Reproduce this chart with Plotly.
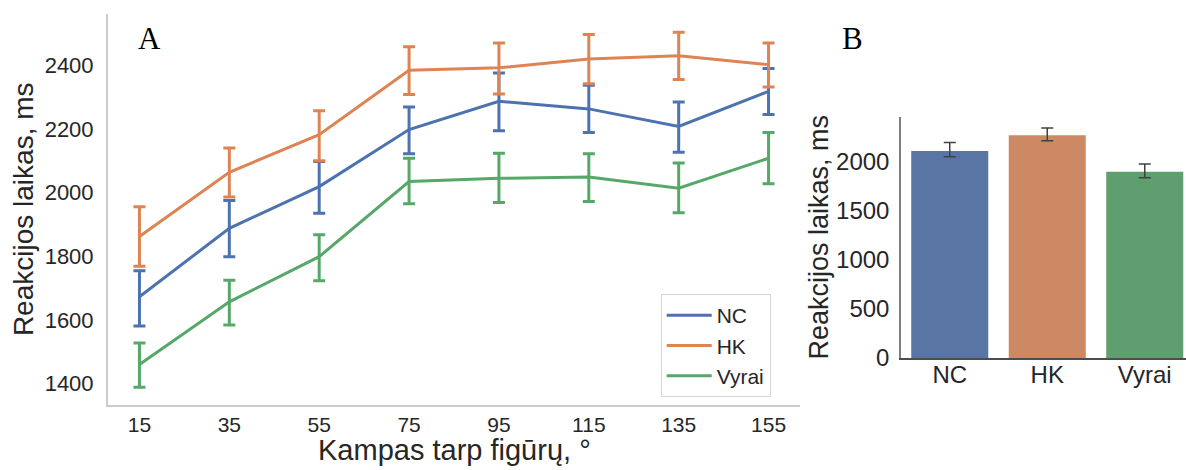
import plotly.graph_objects as go

# ---------------- data ----------------
angles = ["15", "35", "55", "75", "95", "115", "135", "155"]

nc_mean = [1673, 1888, 2019, 2198, 2287, 2263, 2208, 2318]
nc_hi = [1755, 1975, 2098, 2269, 2376, 2337, 2285, 2390]
nc_lo = [1581, 1799, 1935, 2122, 2194, 2189, 2127, 2245]

hk_mean = [1862, 2064, 2182, 2384, 2392, 2420, 2430, 2402]
hk_hi = [1956, 2140, 2257, 2458, 2470, 2497, 2504, 2470]
hk_lo = [1769, 1986, 2100, 2308, 2310, 2342, 2355, 2332]

vy_mean = [1460, 1657, 1799, 2035, 2045, 2049, 2014, 2108]
vy_hi = [1528, 1725, 1868, 2108, 2124, 2122, 2093, 2189]
vy_lo = [1389, 1584, 1723, 1965, 1969, 1972, 1937, 2028]

groups = ["NC", "HK", "Vyrai"]
bar_mean = [2109, 2269, 1898]
bar_hi = [2194, 2343, 1977]
bar_lo = [2051, 2214, 1837]

line_colors = ["#4c72b0", "#dd8452", "#55a868"]
bar_colors = ["#5975a4", "#cc8963", "#5f9e6e"]
TXT = "#262626"
FONT = "Liberation Sans, Arial, sans-serif"
SERIF = "Liberation Serif, Times New Roman, serif"

fig = go.Figure()

series = [("NC", nc_mean, nc_hi, nc_lo), ("HK", hk_mean, hk_hi, hk_lo), ("Vyrai", vy_mean, vy_hi, vy_lo)]
for (name, m, hi, lo), c in zip(series, line_colors):
    fig.add_trace(go.Scatter(
        x=angles, y=m, name=name, mode="lines",
        line=dict(color=c, width=3),
        error_y=dict(type="data", symmetric=False,
                     array=[h - v for h, v in zip(hi, m)],
                     arrayminus=[v - l for v, l in zip(m, lo)],
                     color=c, thickness=3, width=6),
        xaxis="x", yaxis="y",
    ))

fig.add_trace(go.Bar(
    x=groups, y=bar_mean, marker=dict(color=bar_colors, line=dict(width=0)),
    showlegend=False, xaxis="x2", yaxis="y2",
    error_y=dict(type="data", symmetric=False,
                 array=[h - v for h, v in zip(bar_hi, bar_mean)],
                 arrayminus=[v - l for v, l in zip(bar_mean, bar_lo)],
                 color="#404040", thickness=1.5, width=6),
))

W, H = 1186, 470


def px(xp):
    return xp / W


def py(yp):
    return 1 - yp / H


fig.update_layout(
    width=W, height=H,
    margin=dict(l=0, r=0, t=0, b=0, autoexpand=False),
    paper_bgcolor="white", plot_bgcolor="white",
    font=dict(family=FONT, color=TXT),
    bargap=0.21,
    xaxis=dict(
        domain=[px(108), px(800)], type="category", range=[-0.35, 7.35],
        showgrid=False, zeroline=False, showline=True, linecolor="#cccccc", linewidth=2,
        ticks="", tickfont=dict(size=21, color=TXT), automargin=False,
        anchor="y",
    ),
    yaxis=dict(
        domain=[py(404.7), py(14)], range=[1334, 2561],
        tickvals=[1400, 1600, 1800, 2000, 2200, 2400],
        showgrid=False, zeroline=False, showline=True, linecolor="#cccccc", linewidth=2,
        ticks="outside", ticklen=8, tickcolor="rgba(0,0,0,0)",
        tickfont=dict(size=22, color=TXT), automargin=False,
        anchor="x",
    ),
    xaxis2=dict(
        domain=[px(901), 1.0], type="category", range=[-0.5, 2.423],
        showgrid=False, zeroline=False, showline=True, linecolor="#4d4d4d", linewidth=1.5,
        ticks="", ticklabelstandoff=-6, tickfont=dict(size=24, color=TXT), automargin=False,
        anchor="y2",
    ),
    yaxis2=dict(
        domain=[py(358), py(116.7)], range=[0, 2458],
        tickvals=[0, 500, 1000, 1500, 2000],
        showgrid=False, zeroline=False, showline=True, linecolor="#7f7f7f", linewidth=1.5,
        ticks="outside", ticklen=5, tickcolor="rgba(0,0,0,0)",
        tickfont=dict(size=24, color=TXT), automargin=False,
        anchor="x2",
    ),
    legend=dict(
        x=px(660.7), y=py(294), xanchor="left", yanchor="top",
        bgcolor="white", bordercolor="#d6d6d6", borderwidth=1,
        font=dict(size=21, color=TXT), itemwidth=45,
    ),
    annotations=[
        dict(text="Kampas tarp figūrų, °", x=px(454.5), y=py(450), xref="paper", yref="paper",
             showarrow=False, xanchor="center", yanchor="middle",
             font=dict(family=FONT, size=29, color=TXT)),
        dict(text="Reakcijos laikas, ms", x=px(23.6), y=py(209.5), xref="paper", yref="paper",
             showarrow=False, xanchor="center", yanchor="middle", textangle=-90,
             font=dict(family=FONT, size=28, color=TXT)),
        dict(text="Reakcijos laikas, ms", x=px(818), y=py(237.5), xref="paper", yref="paper",
             showarrow=False, xanchor="center", yanchor="middle", textangle=-90,
             font=dict(family=FONT, size=27, color=TXT)),
        dict(text="A", x=px(149), y=py(38.5), xref="paper", yref="paper",
             showarrow=False, xanchor="center", yanchor="middle",
             font=dict(family=SERIF, size=31, color="black")),
        dict(text="B", x=px(852), y=py(38.5), xref="paper", yref="paper",
             showarrow=False, xanchor="center", yanchor="middle",
             font=dict(family=SERIF, size=31, color="black")),
    ],
)

fig.write_html("out.html")
